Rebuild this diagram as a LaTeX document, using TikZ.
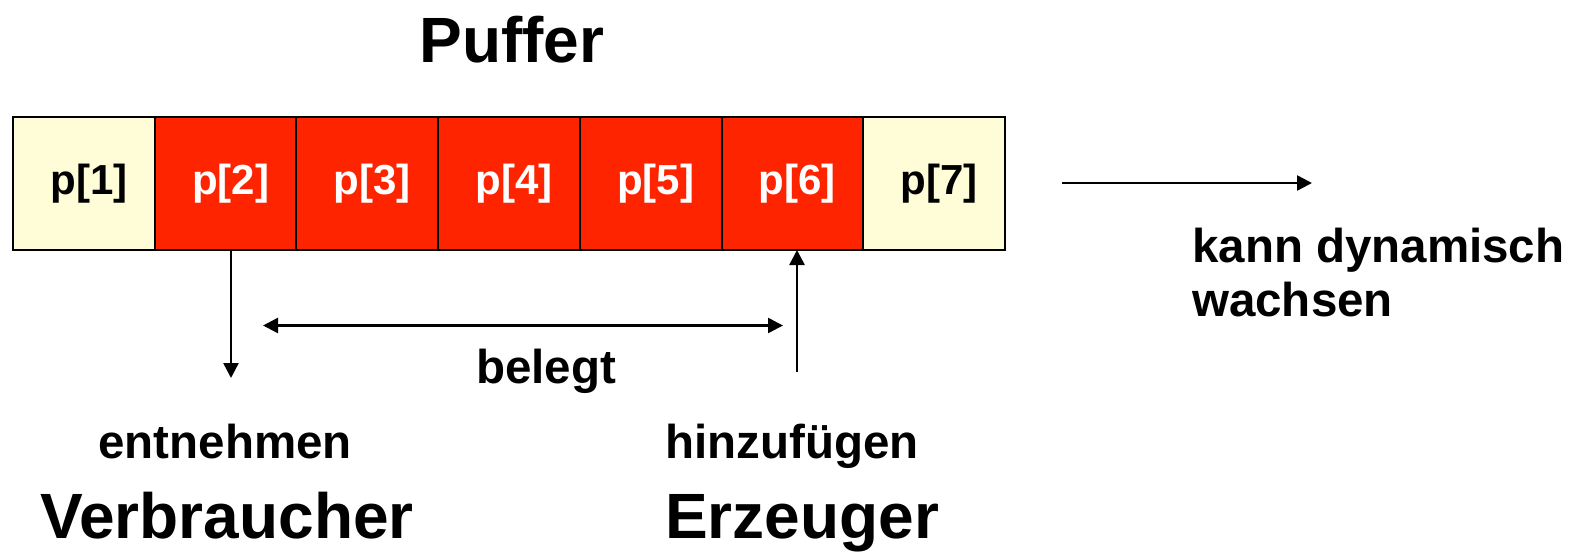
\documentclass[tikz,border=0pt]{standalone}
\usepackage{fontspec}
\setmainfont{Liberation Sans}
\usetikzlibrary{arrows.meta}
\definecolor{bufred}{RGB}{255,36,0}
\definecolor{bufcream}{RGB}{255,253,215}
\tikzset{
  cell/.style={draw=black, line width=2pt, minimum width=141.7pt, minimum height=133pt, inner sep=0pt, font=\fontsize{42}{42}\selectfont\bfseries},
  used/.style={cell, fill=bufred, text=white},
  freecell/.style={cell, fill=bufcream, text=black},
  arr/.style={line width=2.5pt, -{Triangle[length=15pt,width=15pt]}},
  dblarr/.style={line width=2.5pt, {Triangle[length=15pt,width=15pt]}-{Triangle[length=15pt,width=15pt]}},
  lbl/.style={inner sep=0pt, font=\fontsize{47.5}{47.5}\selectfont\bfseries},
  big/.style={inner sep=0pt, font=\fontsize{64}{64}\selectfont\bfseries}
}
\newcommand{\cl}[1]{\hspace*{10pt}#1}
\begin{document}
\begin{tikzpicture}[x=1pt,y=-1pt]
\useasboundingbox (0,0) rectangle (1573,552);
% cells
\node[freecell] (c1) at (83.85,183.5) {\cl{p[1]}};
\node[used]     (c2) at (225.55,183.5) {\cl{p[2]}};
\node[used]     (c3) at (367.25,183.5) {\cl{p[3]}};
\node[used]     (c4) at (508.95,183.5) {\cl{p[4]}};
\node[used]     (c5) at (650.65,183.5) {\cl{p[5]}};
\node[used]     (c6) at (792.35,183.5) {\cl{p[6]}};
\node[freecell] (c7) at (934.05,183.5) {\cl{p[7]}};
% titles
\node[big, anchor=base] (puffer) at (512,62) {Puffer};
\node[lbl, anchor=base] (belegt) at (546,383) {belegt};
\node[lbl, anchor=base] (entn) at (225,458) {entnehmen};
\node[lbl, anchor=base west] (hinz) at (665,458) {hinzufügen};
\node[big, anchor=base] (verb) at (227,538) {Verbraucher};
\node[big, anchor=base west] (erz) at (665,538) {Erzeuger};
\node[lbl, anchor=base west] (kann) at (1192,262) {kann dynamisch};
\node[lbl, anchor=base west] (wachs) at (1192,316) {wachsen};
% coordinates
\coordinate (eTop) at (231,250);
\coordinate (eEnd) at (231,378);
\coordinate (bL) at (263,325.5);
\coordinate (bR) at (783,325.5);
\coordinate (hStart) at (797,372);
\coordinate (hEnd) at (797,250);
\coordinate (gL) at (1062,183);
\coordinate (gR) at (1312,183);
% arrows
\draw[arr] (eTop) -- (eEnd);
\draw[dblarr] (bL) -- (bR);
\draw[arr] (hStart) -- (hEnd);
\draw[arr] (gL) -- (gR);
\end{tikzpicture}
\end{document}
